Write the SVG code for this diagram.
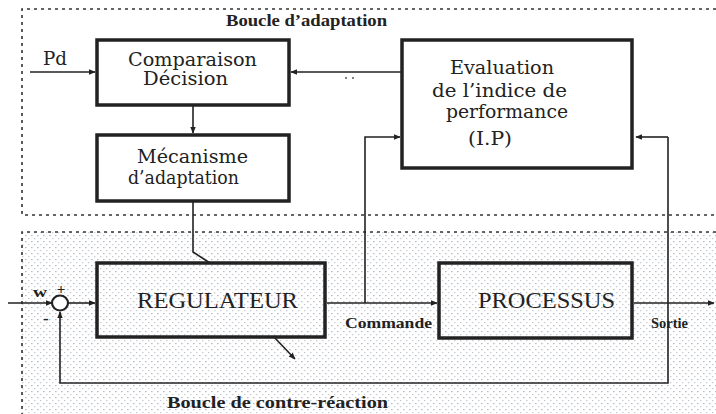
<svg xmlns="http://www.w3.org/2000/svg" width="716" height="414" viewBox="0 0 716 414">
<style>
.box{fill:#fff;stroke:#222;stroke-width:3.5}
.boxs{fill:none;stroke:#222;stroke-width:3.5}
.ln{fill:none;stroke:#222;stroke-width:1.6}
.dash{fill:none;stroke:#333;stroke-width:1.6;stroke-dasharray:3 4}
.t{font-family:"DejaVu Serif","Liberation Serif",serif;fill:#222;font-size:18px}
.big{font-family:"Liberation Serif","DejaVu Serif",serif;fill:#222;font-size:24px}
.b{font-family:"Liberation Serif","DejaVu Serif",serif;fill:#222;font-weight:bold}
</style>
<defs>
<pattern id="dots" width="6" height="6" patternUnits="userSpaceOnUse">
<rect x="1" y="1" width="1.6" height="1.2" fill="#b8bcc4"/>
<rect x="4" y="4" width="1.4" height="1.2" fill="#c8ccd2"/>
</pattern>
<marker id="ah" viewBox="0 0 10 10" refX="9" refY="5" markerWidth="7" markerHeight="7" markerUnits="userSpaceOnUse" orient="auto">
<path d="M0,1 L10,5 L0,9 z" fill="#222"/>
</marker>
</defs>
<rect width="716" height="414" fill="#fff"/>
<g id="zones">
<rect x="22" y="232" width="700" height="190" fill="url(#dots)"/>
<path class="dash" d="M716,9 H22 V215 H716"/>
<path class="dash" d="M716,232 H22 V414"/>
<text class="b" x="226" y="26" font-size="16" textLength="161" lengthAdjust="spacingAndGlyphs">Boucle d’adaptation</text>
<text class="b" x="167" y="408" font-size="16" textLength="221" lengthAdjust="spacingAndGlyphs">Boucle de contre-réaction</text>
</g>
<g id="connectors">
<path class="ln" d="M30,72 H95" marker-end="url(#ah)"/>
<path class="ln" d="M402,72 H291" marker-end="url(#ah)"/>
<path class="ln" d="M193,105 V133" marker-end="url(#ah)"/>
<path class="ln" d="M193,201 V252 L210,263"/>
<path class="ln" d="M274,337 L295,359" marker-end="url(#ah)"/>
<path class="ln" d="M8,303 H52" marker-end="url(#ah)"/>
<path class="ln" d="M68,303 H95" marker-end="url(#ah)"/>
<path class="ln" d="M327,303 H437" marker-end="url(#ah)"/>
<path class="ln" d="M365,303 V137 H400" marker-end="url(#ah)"/>
<path class="ln" d="M634,303 H714" marker-end="url(#ah)"/>
<path class="ln" d="M668,137 V383 H60 V312" marker-end="url(#ah)"/>
<path class="ln" d="M668,137 H636" marker-end="url(#ah)"/>
<circle cx="346" cy="78" r="0.9" fill="#444"/>
<circle cx="353" cy="78" r="0.9" fill="#444"/>
</g>
<g id="sum">
<ellipse cx="60" cy="303" rx="8" ry="7.5" fill="#fff" stroke="#222" stroke-width="2.2"/>
<text class="b" x="33" y="297" font-size="14" textLength="14" lengthAdjust="spacingAndGlyphs">w</text>
<text class="b" x="61" y="294" font-size="15" text-anchor="middle">+</text>
<text class="b" x="46" y="324" font-size="16" text-anchor="middle">-</text>
</g>
<g id="comparaison">
<rect class="box" x="97" y="40" width="192" height="65"/>
<text class="t" x="128" y="66" textLength="129" lengthAdjust="spacingAndGlyphs">Comparaison</text>
<text class="t" x="143" y="85" textLength="85" lengthAdjust="spacingAndGlyphs">Décision</text>
</g>
<g id="mecanisme">
<rect class="box" x="97" y="135" width="192" height="66"/>
<text class="t" x="137" y="163" textLength="111" lengthAdjust="spacingAndGlyphs">Mécanisme</text>
<text class="t" x="128" y="184" textLength="111" lengthAdjust="spacingAndGlyphs">d’adaptation</text>
</g>
<g id="evaluation">
<rect class="box" x="402" y="40" width="230" height="128"/>
<text class="t" x="450" y="74" textLength="104" lengthAdjust="spacingAndGlyphs">Evaluation</text>
<text class="t" x="432" y="97" textLength="135" lengthAdjust="spacingAndGlyphs">de l’indice de</text>
<text class="t" x="446" y="118" textLength="122" lengthAdjust="spacingAndGlyphs">performance</text>
<text class="t" x="468" y="145" textLength="44" lengthAdjust="spacingAndGlyphs">(I.P)</text>
</g>
<g id="regulateur">
<rect class="boxs" x="97" y="263" width="228" height="74"/>
<text class="big" x="137" y="308" textLength="161" lengthAdjust="spacingAndGlyphs">REGULATEUR</text>
</g>
<g id="processus">
<rect class="boxs" x="439" y="263" width="193" height="75"/>
<text class="big" x="478" y="308" textLength="137" lengthAdjust="spacingAndGlyphs">PROCESSUS</text>
</g>
<g id="labels">
<text class="t" x="43" y="65" textLength="24" lengthAdjust="spacingAndGlyphs">Pd</text>
<text class="b" x="345" y="328" font-size="15" textLength="87" lengthAdjust="spacingAndGlyphs">Commande</text>
<text class="b" x="651" y="328" font-size="15" textLength="37" lengthAdjust="spacingAndGlyphs">Sortie</text>
</g>
</svg>
